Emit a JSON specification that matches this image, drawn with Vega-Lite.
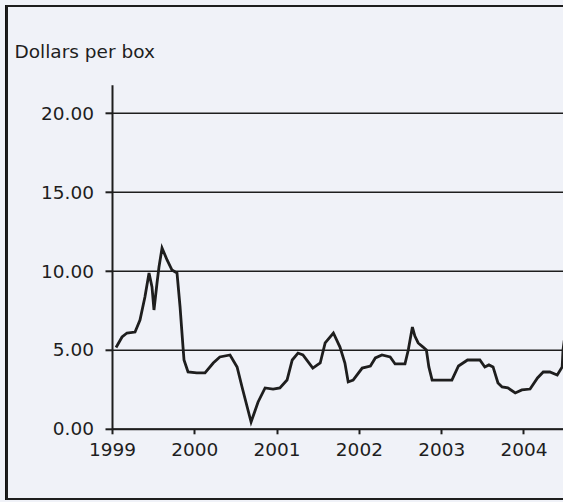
{
  "$schema": "https://vega.github.io/schema/vega-lite/v6.json",
  "width": 451,
  "height": 344,
  "autosize": {"type": "none"},
  "padding": {"left": 112, "top": 84.8, "right": 0, "bottom": 73.2},
  "background": "#f0f2f8",
  "config": {"view": {"stroke": null}, "font": "DejaVu Sans"},
  "data": {"values": [
    {"year": 1999.049, "price": 5.15},
    {"year": 1999.122, "price": 5.82},
    {"year": 1999.182, "price": 6.07},
    {"year": 1999.28, "price": 6.13},
    {"year": 1999.34, "price": 6.89},
    {"year": 1999.40, "price": 8.35},
    {"year": 1999.45, "price": 9.87},
    {"year": 1999.486, "price": 8.99},
    {"year": 1999.51, "price": 7.53},
    {"year": 1999.547, "price": 9.24},
    {"year": 1999.571, "price": 10.25},
    {"year": 1999.608, "price": 11.46},
    {"year": 1999.669, "price": 10.70},
    {"year": 1999.729, "price": 10.06},
    {"year": 1999.79, "price": 9.87},
    {"year": 1999.827, "price": 7.72},
    {"year": 1999.863, "price": 5.18},
    {"year": 1999.875, "price": 4.36},
    {"year": 1999.924, "price": 3.60},
    {"year": 2000.03, "price": 3.54},
    {"year": 2000.13, "price": 3.54},
    {"year": 2000.23, "price": 4.17},
    {"year": 2000.31, "price": 4.55},
    {"year": 2000.434, "price": 4.68},
    {"year": 2000.52, "price": 3.92},
    {"year": 2000.58, "price": 2.65},
    {"year": 2000.69, "price": 0.43},
    {"year": 2000.775, "price": 1.70},
    {"year": 2000.86, "price": 2.59},
    {"year": 2000.957, "price": 2.52},
    {"year": 2001.04, "price": 2.59},
    {"year": 2001.127, "price": 3.09},
    {"year": 2001.19, "price": 4.36},
    {"year": 2001.26, "price": 4.80},
    {"year": 2001.32, "price": 4.68},
    {"year": 2001.44, "price": 3.85},
    {"year": 2001.53, "price": 4.17},
    {"year": 2001.59, "price": 5.44},
    {"year": 2001.69, "price": 6.07},
    {"year": 2001.77, "price": 5.18},
    {"year": 2001.83, "price": 4.17},
    {"year": 2001.87, "price": 2.97},
    {"year": 2001.93, "price": 3.09},
    {"year": 2002.04, "price": 3.85},
    {"year": 2002.14, "price": 3.98},
    {"year": 2002.20, "price": 4.49},
    {"year": 2002.28, "price": 4.68},
    {"year": 2002.38, "price": 4.55},
    {"year": 2002.44, "price": 4.11},
    {"year": 2002.56, "price": 4.11},
    {"year": 2002.60, "price": 4.99},
    {"year": 2002.65, "price": 6.45},
    {"year": 2002.68, "price": 5.88},
    {"year": 2002.72, "price": 5.44},
    {"year": 2002.78, "price": 5.18},
    {"year": 2002.82, "price": 4.99},
    {"year": 2002.85, "price": 3.92},
    {"year": 2002.89, "price": 3.09},
    {"year": 2003.01, "price": 3.09},
    {"year": 2003.13, "price": 3.09},
    {"year": 2003.21, "price": 3.98},
    {"year": 2003.32, "price": 4.36},
    {"year": 2003.47, "price": 4.36},
    {"year": 2003.53, "price": 3.92},
    {"year": 2003.58, "price": 4.05},
    {"year": 2003.63, "price": 3.92},
    {"year": 2003.69, "price": 2.91},
    {"year": 2003.74, "price": 2.65},
    {"year": 2003.81, "price": 2.59},
    {"year": 2003.90, "price": 2.27},
    {"year": 2003.98, "price": 2.46},
    {"year": 2004.08, "price": 2.52},
    {"year": 2004.17, "price": 3.22},
    {"year": 2004.24, "price": 3.60},
    {"year": 2004.32, "price": 3.60},
    {"year": 2004.41, "price": 3.41},
    {"year": 2004.47, "price": 3.92},
    {"year": 2004.48, "price": 4.99},
    {"year": 2004.495, "price": 5.6}
  ]},
  "layer": [
    {
      "mark": {"type": "rect", "fill": null, "stroke": "#1e1e1e", "strokeWidth": 2, "clip": false},
      "encoding": {
        "x": {"datum": 1997.7235, "type": "quantitative"},
        "x2": {"datum": 2005.5},
        "y": {"datum": 26.79, "type": "quantitative"},
        "y2": {"datum": -4.45}
      }
    },
    {
      "mark": {"type": "line", "color": "#1e1e1e", "strokeWidth": 2.8, "clip": true, "strokeJoin": "miter"},
      "encoding": {
        "x": {
          "field": "year", "type": "quantitative",
          "scale": {"domain": [1999, 2004.48], "nice": false, "zero": false},
          "axis": {
            "values": [1999, 2000, 2001, 2002, 2003, 2004],
            "format": "d",
            "title": null,
            "grid": false,
            "domainColor": "#1e1e1e", "domainWidth": 2,
            "tickColor": "#1e1e1e", "tickWidth": 2, "tickSize": 5,
            "labelFontSize": 18.5, "labelColor": "#1e1e1e", "labelPadding": 7,
            "labelFlush": false
          }
        },
        "y": {
          "field": "price", "type": "quantitative",
          "scale": {"domain": [0, 21.8], "nice": false},
          "axis": {
            "values": [0, 5, 10, 15, 20],
            "format": ".2f",
            "grid": true, "gridColor": "#1e1e1e", "gridWidth": 1.5, "gridOpacity": 1,
            "domainColor": "#1e1e1e", "domainWidth": 2,
            "tickColor": "#1e1e1e", "tickWidth": 2, "tickSize": 7,
            "labelFontSize": 18.5, "labelColor": "#1e1e1e", "labelPadding": 11.5,
            "labelFlush": false,
            "title": "Dollars per box",
            "titleAngle": 0, "titleX": -98, "titleY": -27.5,
            "titleAlign": "left", "titleBaseline": "alphabetic",
            "titleFontSize": 18.5, "titleFontWeight": "normal", "titleColor": "#1e1e1e"
          }
        }
      }
    }
  ]
}
